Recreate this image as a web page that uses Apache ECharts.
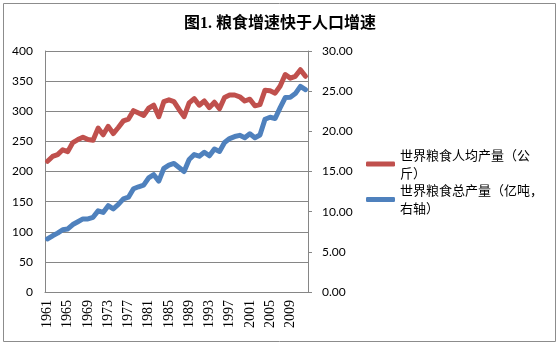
<!DOCTYPE html>
<html>
<head>
<meta charset="utf-8">
<script src="https://cdn.jsdelivr.net/npm/echarts@6/dist/echarts.min.js"></script>
<style>
  html, body { margin: 0; padding: 0; background: #fff; }
  #chart { width: 560px; height: 344px; }
</style>
</head>
<body>
<div id="chart"></div>
<script>
// 1961–2012
const years = [];
for (let y = 1961; y <= 2012; y++) years.push(String(y));

// 世界粮食人均产量（公斤）
const perCapita = [
  217, 225, 228, 236, 233, 248, 253, 257, 253, 252,
  272, 261, 275, 263, 273, 284, 287, 301, 297, 293,
  305, 310, 291, 316, 319, 316, 303, 291, 314, 321,
  310, 317, 306, 315, 304, 323, 327, 327, 324, 317,
  320, 309, 311, 335, 334, 330, 342, 361, 355, 358,
  369, 358
];

// 世界粮食总产量（亿吨，右轴）
const totalOutput = [
  6.6, 7.0, 7.33, 7.75, 7.85, 8.4, 8.75, 9.1, 9.1, 9.3,
  10.1, 9.9, 10.75, 10.35, 10.9, 11.6, 11.8, 12.85, 13.1, 13.3,
  14.2, 14.6, 13.8, 15.4, 15.8, 16.0, 15.5, 15.0, 16.5, 17.1,
  16.9, 17.4, 16.95, 17.8, 17.5, 18.6, 19.1, 19.35, 19.5, 19.2,
  19.7, 19.2, 19.55, 21.5, 21.75, 21.6, 22.95, 24.2, 24.25, 24.7,
  25.6, 25.2
];

const seriesNames = ['世界粮食人均产量（公斤）', '世界粮食总产量（亿吨，右轴）'];
const legendLines = {
  '世界粮食人均产量（公斤）': '世界粮食人均产量（公\n斤）',
  '世界粮食总产量（亿吨，右轴）': '世界粮食总产量（亿吨，\n右轴）'
};

const chart = echarts.init(document.getElementById('chart'), null, { renderer: 'canvas' });

const gridColor = '#868686';
const labelFont = "Lato, 'Open Sans', sans-serif";

chart.setOption({
  animation: false,
  backgroundColor: '#fff',
  title: {
    text: '图1. 粮食增速快于人口增速',
    left: 'center',
    top: 11,
    textStyle: {
      fontFamily: "'Liberation Serif', 'Noto Sans CJK SC', serif",
      fontWeight: 'bold',
      fontSize: 16,
      color: '#000'
    }
  },
  graphic: [{
    type: 'rect',
    shape: { x: 3.5, y: 3.5, width: 552, height: 338 },
    style: { fill: 'none', stroke: '#8c8c8c', lineWidth: 1 },
    silent: true
  }],
  legend: {
    orient: 'vertical',
    left: 366,
    top: 137,
    padding: 0,
    itemGap: -18.5,
    itemWidth: 29,
    itemHeight: 5,
    icon: 'roundRect',
    data: seriesNames,
    formatter: name => legendLines[name],
    textStyle: {
      fontFamily: "'Noto Sans CJK SC', sans-serif",
      fontSize: 13,
      lineHeight: 18,
      color: '#000',
      padding: [18, 0, 0, 0]
    }
  },
  grid: {
    left: 45,
    right: 252,
    top: 51,
    bottom: 52,
    containLabel: false
  },
  xAxis: {
    type: 'category',
    data: years,
    boundaryGap: true,
    axisLine: { lineStyle: { color: gridColor, width: 1 } },
    axisTick: { show: false },
    axisLabel: {
      interval: 3,
      rotate: 90,
      margin: 8,
      color: '#000',
      fontFamily: "'Liberation Serif', serif",
      fontSize: 14
    },
    splitLine: { show: false }
  },
  yAxis: [{
    type: 'value',
    min: 0,
    max: 400,
    interval: 50,
    position: 'left',
    axisLine: { show: true, lineStyle: { color: gridColor } },
    axisTick: { show: false },
    axisLabel: { margin: 12, color: '#000', fontFamily: labelFont, fontSize: 12 },
    splitLine: { show: true, lineStyle: { color: gridColor, width: 1 } }
  }, {
    type: 'value',
    min: 0,
    max: 30,
    interval: 5,
    position: 'right',
    axisLine: { show: true, lineStyle: { color: gridColor } },
    axisTick: { show: true, length: 4, lineStyle: { color: gridColor } },
    axisLabel: {
      margin: 14,
      color: '#000',
      fontFamily: labelFont,
      fontSize: 12,
      formatter: v => v.toFixed(2)
    },
    splitLine: { show: false }
  }],
  series: [{
    name: seriesNames[0],
    type: 'line',
    yAxisIndex: 0,
    data: perCapita,
    symbol: 'none',
    color: '#C0504D',
    lineStyle: { width: 5, color: '#C0504D', cap: 'round', join: 'round' }
  }, {
    name: seriesNames[1],
    type: 'line',
    yAxisIndex: 1,
    data: totalOutput,
    symbol: 'none',
    color: '#4F81BD',
    lineStyle: { width: 5, color: '#4F81BD', cap: 'round', join: 'round' }
  }]
});
</script>
</body>
</html>
